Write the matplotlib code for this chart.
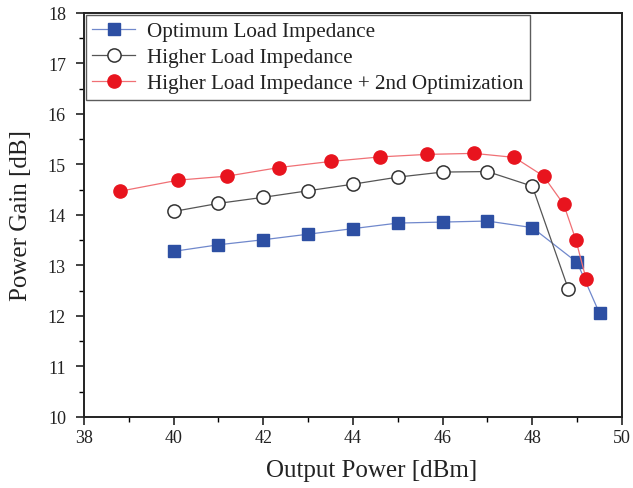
import numpy as np
import matplotlib
matplotlib.use("Agg")
import matplotlib.pyplot as plt
from matplotlib.ticker import MultipleLocator

# Data
opt_x = [40, 41, 42, 43, 44, 45, 46, 47, 48, 49, 49.5]
opt_gain = [13.28, 13.41, 13.51, 13.62, 13.73, 13.84, 13.86, 13.88, 13.75, 13.06, 12.05]

high_x = [40, 41, 42, 43, 44, 45, 46, 47, 48, 48.8]
high_gain = [14.07, 14.23, 14.35, 14.48, 14.61, 14.75, 14.85, 14.86, 14.57, 12.54]

opt2_x = [38.8, 40.1, 41.2, 42.35, 43.5, 44.6, 45.65, 46.7, 47.6, 48.25, 48.7, 48.97, 49.2]
opt2_gain = [14.47, 14.69, 14.77, 14.94, 15.06, 15.15, 15.2, 15.22, 15.14, 14.77, 14.21, 13.51, 12.73]

labels = ["Optimum Load Impedance", "Higher Load Impedance",
          "Higher Load Impedance + 2nd Optimization"]

plt.rcParams['font.family'] = ['Liberation Serif', 'DejaVu Serif']

fig = plt.figure(figsize=(6.33, 4.89), dpi=100)
ax = fig.add_axes([0.1327, 0.1452, 0.8499, 0.8262])

ax.plot(opt_x, opt_gain, '-', color='#7088cc', lw=0.9, marker='s', ms=9,
        mfc='#2d4fa3', mec='#2d4fa3', label=labels[0], zorder=3)
ax.plot(high_x, high_gain, '-', color='#555555', lw=0.9, marker='o', ms=9.5,
        mfc='white', mec='#333333', mew=1.1, label=labels[1], zorder=3)
ax.plot(opt2_x, opt2_gain, '-', color='#f07075', lw=0.9, marker='o', ms=9.5,
        mfc='#e8141e', mec='#e8141e', label=labels[2], zorder=4)

ax.set_xlim(38, 50)
ax.set_ylim(10, 18)
ax.xaxis.set_major_locator(MultipleLocator(2))
ax.xaxis.set_minor_locator(MultipleLocator(1))
ax.yaxis.set_major_locator(MultipleLocator(1))
ax.yaxis.set_minor_locator(MultipleLocator(0.5))
ax.tick_params(which='major', direction='out', length=6, width=1.2,
               labelsize=13, colors='#222222', pad=3)
ax.tick_params(axis='y', which='major', pad=7)
ax.tick_params(which='minor', direction='out', length=3.5, width=1.0)
for sp in ax.spines.values():
    sp.set_linewidth(1.4)
    sp.set_color('#222222')

ax.set_xlabel("Output Power [dBm]", fontsize=18, color='#222222')
ax.xaxis.set_label_coords(0.534, -0.105)
ax.set_ylabel("Power Gain [dB]", fontsize=18, color='#222222')
ax.yaxis.set_label_coords(-0.097, 0.5)

leg = ax.legend(loc='upper left', bbox_to_anchor=(0.0, 1.0), fontsize=15.2,
                frameon=True, fancybox=False, edgecolor='#333333',
                borderpad=0.3, labelspacing=0.3, handlelength=2.0,
                handletextpad=0.6, borderaxespad=0.1)
leg.get_frame().set_linewidth(1.0)
for t in leg.get_texts():
    t.set_color('#222222')

fig.savefig("out.png", dpi=100)
